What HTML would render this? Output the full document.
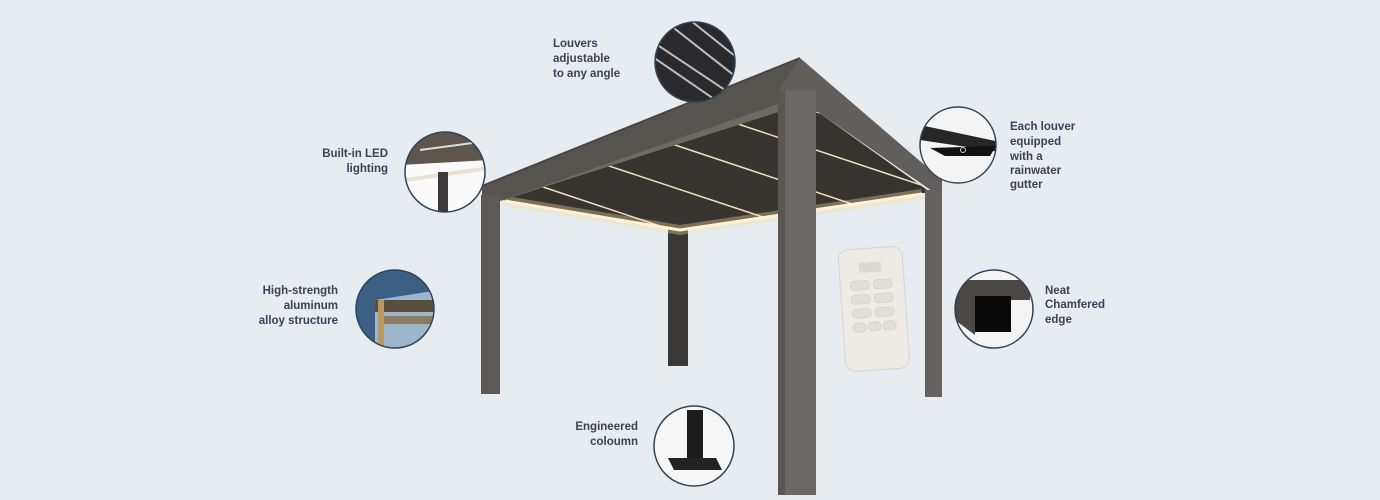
<!DOCTYPE html>
<html><head><style>
html,body{margin:0;padding:0;background:#e7ecf0;}
svg{display:block;}
text{font-family:"Liberation Sans",sans-serif;font-weight:bold;font-size:11.5px;fill:#3b4250;}
</style></head><body>
<svg width="1380" height="500" viewBox="0 0 1380 500">
<defs>
<clipPath id="under"><polygon points="503,200 778,112 818,112 930,192 680,230"/></clipPath>
<clipPath id="c1"><circle cx="695" cy="62" r="40"/></clipPath>
<clipPath id="c2"><circle cx="445" cy="172" r="40"/></clipPath>
<clipPath id="c3"><circle cx="395" cy="309" r="39"/></clipPath>
<clipPath id="c4"><circle cx="958" cy="145" r="38"/></clipPath>
<clipPath id="c5"><circle cx="994" cy="309" r="39"/></clipPath>
<clipPath id="c6"><circle cx="694" cy="446" r="40"/></clipPath>
</defs>
<rect width="1380" height="500" fill="#e7ecf0"/>
<rect x="668" y="226" width="20" height="140" fill="#3a3837"/>
<polygon points="503,200 778,112 818,112 930,192 680,230" fill="#37332f"/>
<g clip-path="url(#under)" stroke="#efe2c0" stroke-width="1.5">
<line x1="540" y1="186" x2="720" y2="246"/>
<line x1="600" y1="163" x2="820" y2="236"/>
<line x1="660" y1="140" x2="900" y2="220"/>
<line x1="720" y1="118" x2="960" y2="198"/>
<line x1="790" y1="103" x2="1000" y2="173"/>
</g>
<polyline points="505,201 680,230 922,194" fill="none" stroke="#f5e2b0" stroke-width="10" opacity="0.35"/>
<polyline points="505,201 680,230 922,194" fill="none" stroke="#fff3cf" stroke-width="3"/>
<!-- roof beams -->
<polygon points="482,186 800,58 815,92 778,112 500,201 482,198" fill="#57534f"/>
<polygon points="500,201 778,104 778,112" fill="#6d6965"/>
<polygon points="800,58 942,180 942,198 818,112 778,112 778,92" fill="#625e5b"/>
<line x1="482" y1="186" x2="800" y2="58" stroke="#4a4643" stroke-width="2"/>
<!-- posts -->
<rect x="481" y="195" width="19" height="199" fill="#5d5957"/>
<rect x="925" y="190" width="17" height="207" fill="#65615e"/>
<rect x="778" y="90" width="38" height="405" fill="#6b6764"/>
<rect x="778" y="90" width="7" height="405" fill="#5a5654"/>
<!-- remote -->
<g transform="rotate(-4 874 310)">
<rect x="842" y="248" width="64" height="122" rx="10" fill="#eeeae4" stroke="#d8d4ce"/>
<rect x="862" y="262" width="22" height="10" fill="#dcd8d2"/>
<g fill="#e2ded8" stroke="#cfcac4" stroke-width="0.6">
<rect x="852" y="280" width="19" height="9" rx="4"/><rect x="875" y="280" width="19" height="9" rx="4"/>
<rect x="852" y="294" width="19" height="9" rx="4"/><rect x="875" y="294" width="19" height="9" rx="4"/>
<rect x="852" y="308" width="19" height="9" rx="4"/><rect x="875" y="308" width="19" height="9" rx="4"/>
<rect x="852" y="322" width="13" height="9" rx="4"/><rect x="867" y="322" width="13" height="9" rx="4"/><rect x="882" y="322" width="13" height="9" rx="4"/>
</g></g>
<!-- circles -->
<g clip-path="url(#c1)"><rect x="650" y="20" width="90" height="90" fill="#2a2a2c"/>
<g stroke="#bfbfbf" stroke-width="2"><line x1="650" y1="40" x2="740" y2="100"/><line x1="650" y1="55" x2="730" y2="110"/><line x1="670" y1="25" x2="740" y2="80"/><line x1="690" y1="20" x2="740" y2="60"/></g></g>
<circle cx="695" cy="62" r="40" fill="none" stroke="#2f4456" stroke-width="1.5"/>
<g clip-path="url(#c2)"><rect x="400" y="130" width="90" height="90" fill="#fafafa"/>
<polygon points="400,130 490,130 490,160 400,165" fill="#5d564c"/><line x1="405" y1="180" x2="490" y2="168" stroke="#e8e2d2" stroke-width="4"/>
<rect x="438" y="172" width="10" height="50" fill="#3c3a38"/><line x1="420" y1="150" x2="480" y2="142" stroke="#ddd" stroke-width="2"/></g>
<circle cx="445" cy="172" r="40" fill="none" stroke="#2f4456" stroke-width="1.5"/>
<g clip-path="url(#c3)"><rect x="350" y="265" width="90" height="90" fill="#9eb6cc"/>
<polygon points="350,265 440,265 440,290 375,300 375,355 350,355" fill="#3e5f84"/>
<rect x="375" y="300" width="70" height="12" fill="#5a4e3c"/><rect x="380" y="316" width="70" height="8" fill="#8a7a60"/><rect x="378" y="300" width="6" height="60" fill="#b89a60"/></g>
<circle cx="395" cy="309" r="39" fill="none" stroke="#2f4456" stroke-width="1.5"/>
<g clip-path="url(#c4)"><rect x="915" y="105" width="90" height="85" fill="#f4f4f4"/>
<polygon points="920,125 1000,142 1000,152 920,140" fill="#262626"/>
<polygon points="930,148 996,146 990,156 945,156" fill="#111"/><circle cx="963" cy="150" r="2.5" fill="none" stroke="#ccc"/></g>
<circle cx="958" cy="145" r="38" fill="none" stroke="#2f4456" stroke-width="1.5"/>
<g clip-path="url(#c5)"><rect x="950" y="265" width="90" height="90" fill="#f4f4f4"/>
<polygon points="955,280 1030,280 1030,300 975,300 975,335 955,320" fill="#4a4745"/>
<rect x="975" y="296" width="36" height="36" fill="#0a0a0a"/></g>
<circle cx="994" cy="309" r="39" fill="none" stroke="#2f4456" stroke-width="1.5"/>
<g clip-path="url(#c6)"><rect x="650" y="400" width="90" height="90" fill="#f6f6f6"/>
<rect x="687" y="410" width="16" height="50" fill="#1c1c1c"/><polygon points="668,458 716,458 722,470 674,470" fill="#222"/></g>
<circle cx="694" cy="446" r="40" fill="none" stroke="#2f4456" stroke-width="1.5"/>
<!-- labels -->
<text x="553" y="47">Louvers</text><text x="553" y="62">adjustable</text><text x="553" y="77">to any angle</text>
<text x="388" y="157" text-anchor="end">Built-in LED</text><text x="388" y="172" text-anchor="end">lighting</text>
<text x="338" y="294" text-anchor="end">High-strength</text><text x="338" y="309" text-anchor="end">aluminum</text><text x="338" y="324" text-anchor="end">alloy structure</text>
<text x="1010" y="130">Each louver</text><text x="1010" y="145">equipped</text><text x="1010" y="160">with a</text><text x="1010" y="174">rainwater</text><text x="1010" y="188">gutter</text>
<text x="1045" y="294">Neat</text><text x="1045" y="308">Chamfered</text><text x="1045" y="323">edge</text>
<text x="638" y="430" text-anchor="end">Engineered</text><text x="638" y="445" text-anchor="end">coloumn</text>
</svg>
</body></html>
